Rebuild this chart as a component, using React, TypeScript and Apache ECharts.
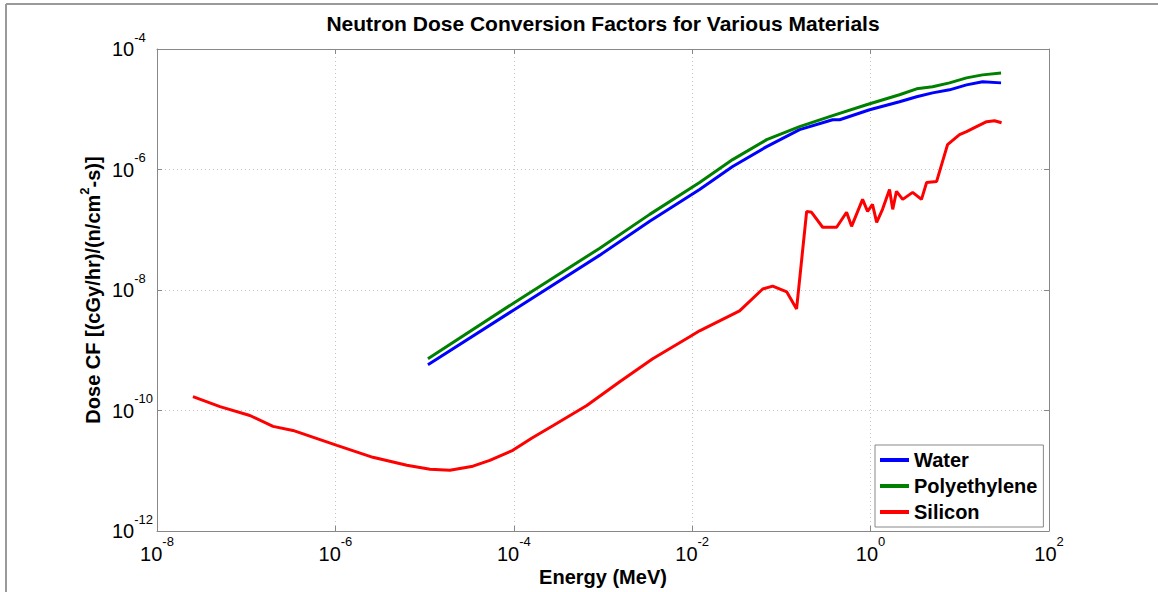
import React, { useEffect, useRef } from "react";
import * as echarts from "echarts";

const titleText = "Neutron Dose Conversion Factors for Various Materials";
const xAxisName = "Energy (MeV)";
const seriesNames = ["Water", "Polyethylene", "Silicon"];

const waterEnergy = [1.09e-5, 1.0e-4, 9.2e-4, 3.34e-3, 1.21e-2, 2.84e-2, 6.84e-2, 0.16, 0.375, 0.45, 0.975, 2.11, 3.28, 4.95, 7.67, 11.9, 18.0, 29.0];
const waterDose = [5.75e-10, 4.67e-9, 3.79e-8, 1.38e-7, 4.67e-7, 1.12e-6, 2.4e-6, 4.58e-6, 6.7e-6, 6.7e-6, 9.82e-6, 1.33e-5, 1.61e-5, 1.87e-5, 2.1e-5, 2.54e-5, 2.85e-5, 2.74e-5];

const polyEnergy = [1.09e-5, 1.0e-4, 9.2e-4, 3.34e-3, 1.21e-2, 2.84e-2, 6.84e-2, 0.16, 0.375, 0.9, 2.11, 3.28, 4.95, 7.67, 11.9, 18.0, 29.0];
const polyDose = [7.24e-10, 6.1e-9, 4.94e-8, 1.8e-7, 6.1e-7, 1.46e-6, 3.13e-6, 5.14e-6, 7.82e-6, 1.19e-5, 1.74e-5, 2.18e-5, 2.36e-5, 2.74e-5, 3.32e-5, 3.72e-5, 4.01e-5];

const siliconEnergy = [2.53e-8, 5.08e-8, 1.1e-7, 2.0e-7, 3.34e-7, 1.04e-6, 2.63e-6, 6.32e-6, 1.15e-5, 1.92e-5, 3.48e-5, 5.38e-5, 9.75e-5, 1.6e-4, 2.74e-4, 6.58e-4, 1.54e-3, 3.61e-3, 9.38e-3, 1.21e-2, 3.4e-2, 6.17e-2, 7.98e-2, 0.115, 0.148, 0.192, 0.218, 0.29, 0.416, 0.538, 0.612, 0.813, 0.925, 1.05, 1.17, 1.36, 1.63, 1.77, 1.95, 2.29, 2.96, 3.72, 4.25, 5.5, 7.29, 9.93, 11.9, 15.4, 20.0, 24.5, 29.4];
const siliconDose = [1.7e-10, 1.16e-10, 8.26e-11, 5.45e-11, 4.67e-11, 2.64e-11, 1.67e-11, 1.23e-11, 1.06e-11, 1.02e-11, 1.19e-11, 1.49e-11, 2.18e-11, 3.5e-11, 5.6e-11, 1.21e-10, 3.01e-10, 7.24e-10, 1.67e-9, 2.1e-9, 4.5e-9, 1.04e-8, 1.16e-8, 9.27e-9, 4.85e-9, 2.02e-7, 1.95e-7, 1.1e-7, 1.1e-7, 1.95e-7, 1.14e-7, 3.19e-7, 2.02e-7, 2.64e-7, 1.33e-7, 2.18e-7, 4.67e-7, 2.18e-7, 4.33e-7, 3.19e-7, 4.17e-7, 3.19e-7, 6.1e-7, 6.34e-7, 2.59e-6, 3.79e-6, 4.25e-6, 5.14e-6, 6.21e-6, 6.46e-6, 5.98e-6];

const seriesColors = ["#0000ff", "#008000", "#ff0000"];
const xMin = 1e-8;
const xMax = 1e2;
const yMin = 1e-12;
const yMax = 1e-4;

const FONT = "'Liberation Sans', Arial, sans-serif";

const pairs = (xs: number[], ys: number[]) => xs.map((x, i) => [x, ys[i]]);

const expFormatter = (v: number) => {
  const e = Math.round(Math.log10(v));
  return `{b|10}{s|${e}}`;
};

const makeRich = () => ({
  b: { fontSize: 20, fontFamily: FONT, color: "#000", lineHeight: 37 },
  s: { fontSize: 13, fontFamily: FONT, color: "#000", lineHeight: 13, verticalAlign: "top" },
});

export default function App() {
  const ref = useRef<HTMLDivElement>(null);
  useEffect(() => {
    if (!ref.current) return;
    const chart = echarts.init(ref.current, null, { renderer: "svg" });
    const axisLineStyle = { color: "#888", width: 1 };
    const gridLine = { show: true, lineStyle: { color: "#c4c4c4", type: [1, 3] as any, width: 1 } };
    chart.setOption({
      animation: false,
      backgroundColor: "#fff",
      title: {
        text: titleText,
        left: 598,
        top: 8,
        textAlign: "center",
        textStyle: { fontFamily: FONT, fontSize: 21, fontWeight: "bold", color: "#000" },
      },
      grid: { left: 157, top: 49, width: 892, height: 482, containLabel: false },
      legend: {
        data: seriesNames,
        orient: "vertical",
        left: 875,
        top: 445,
        padding: [5, 6, 5, 5],
        itemGap: 6,
        itemWidth: 29,
        itemHeight: 4,
        icon: "rect",
        selectedMode: false,
        backgroundColor: "#fff",
        borderColor: "#888",
        borderWidth: 1,
        borderRadius: 0,
        textStyle: { fontFamily: FONT, fontSize: 20, fontWeight: "bold", color: "#000", lineHeight: 20 },
      },
      xAxis: [
        {
          type: "log",
          logBase: 10,
          min: xMin,
          max: xMax,
          interval: 2,
          position: "bottom",
          name: xAxisName,
          nameLocation: "middle",
          nameGap: 36,
          nameMoveOverlap: false,
          nameTextStyle: { fontFamily: FONT, fontSize: 20, fontWeight: "bold", color: "#000" },
          axisLine: { show: true, lineStyle: axisLineStyle },
          axisTick: { show: true, inside: true, length: 5, lineStyle: axisLineStyle },
          axisLabel: { formatter: expFormatter, rich: makeRich(), margin: 4 },
          splitLine: gridLine,
          minorTick: { show: false },
        },
        {
          type: "log",
          logBase: 10,
          min: xMin,
          max: xMax,
          interval: 2,
          position: "top",
          axisLine: { show: true, lineStyle: axisLineStyle },
          axisTick: { show: true, inside: true, length: 5, lineStyle: axisLineStyle },
          axisLabel: { show: false },
          splitLine: { show: false },
        },
      ],
      yAxis: [
        {
          type: "log",
          logBase: 10,
          min: yMin,
          max: yMax,
          interval: 2,
          position: "left",
          name: "{n|Dose CF [(cGy/hr)/(n/cm}{s|2}{n|-s)]}",
          nameLocation: "middle",
          nameGap: 49,
          nameMoveOverlap: false,
          nameTextStyle: {
            rich: {
              n: { fontFamily: FONT, fontSize: 20, fontWeight: "bold", color: "#000", lineHeight: 30 },
              s: { fontFamily: FONT, fontSize: 13, fontWeight: "bold", color: "#000", lineHeight: 13, verticalAlign: "top" },
            },
          },
          axisLine: { show: true, lineStyle: axisLineStyle },
          axisTick: { show: true, inside: true, length: 5, lineStyle: axisLineStyle },
          axisLabel: { formatter: expFormatter, rich: makeRich(), margin: 45, align: "left" },
          splitLine: gridLine,
          minorTick: { show: false },
        },
        {
          type: "log",
          logBase: 10,
          min: yMin,
          max: yMax,
          interval: 2,
          position: "right",
          axisLine: { show: true, lineStyle: axisLineStyle },
          axisTick: { show: true, inside: true, length: 5, lineStyle: axisLineStyle },
          axisLabel: { show: false },
          splitLine: { show: false },
        },
      ],
      series: [
        { name: seriesNames[0], type: "line", data: pairs(waterEnergy, waterDose) },
        { name: seriesNames[1], type: "line", data: pairs(polyEnergy, polyDose) },
        { name: seriesNames[2], type: "line", data: pairs(siliconEnergy, siliconDose) },
      ].map((s, i) => ({
        ...s,
        xAxisIndex: 0,
        yAxisIndex: 0,
        showSymbol: false,
        symbol: "none",
        color: seriesColors[i],
        lineStyle: { color: seriesColors[i], width: 3 },
        z: 3,
      })),
      graphic: [
        { type: "line", shape: { x1: 6, y1: 4, x2: 1158, y2: 4 }, style: { stroke: "#9a9a9a", lineWidth: 2 } },
        { type: "line", shape: { x1: 6, y1: 4, x2: 6, y2: 592 }, style: { stroke: "#9a9a9a", lineWidth: 2 } },
      ],
    });
    return () => chart.dispose();
  }, []);
  return <div ref={ref} style={{ position: "fixed", left: 0, top: 0, width: 1158, height: 592 }} />;
}
